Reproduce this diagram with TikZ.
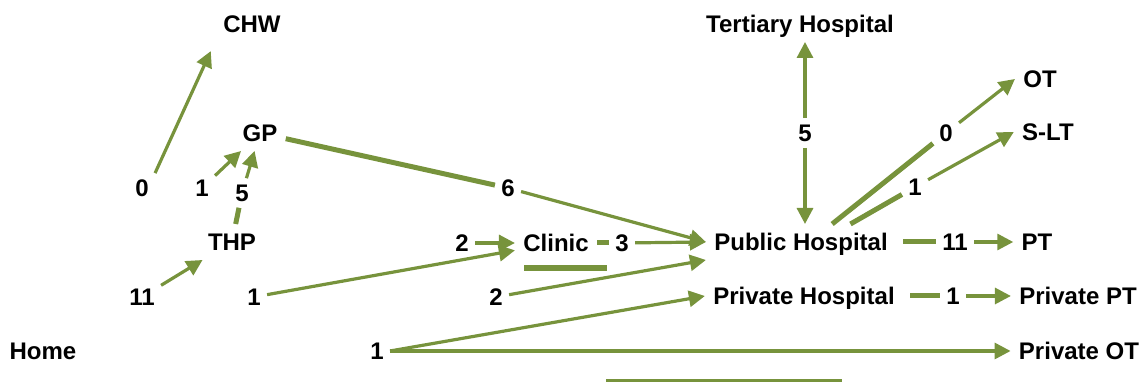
\documentclass[tikz,border=0pt]{standalone}
\usepackage{fontspec}
\setmainfont{Liberation Sans}
\usetikzlibrary{arrows.meta, positioning}
\definecolor{leaf}{RGB}{119,147,60}

\begin{document}
\begin{tikzpicture}[
    x=0.5pt, y=-0.5pt,
    % Styles for places, counts and links
    place/.style={font=\fontsize{12pt}{14pt}\selectfont\bfseries, inner xsep=4pt, inner ysep=2pt, text height=11.1pt, text depth=2.5pt},
    count/.style={font=\fontsize{12pt}{14pt}\selectfont\bfseries, inner sep=3pt},
    flow/.style={draw=leaf, line width=1.6pt, -{Triangle[length=8pt,width=8pt]}},
    stub/.style={draw=leaf, line width=2.5pt}
]
\useasboundingbox (0,0) rectangle (1141,383);

        % --- Places ---
        \node[place] (chw) at (252, 24) {CHW};
        \node[place] (gp) at (260, 133) {GP};
        \node[place] (thp) at (232, 242) {THP};
        \node[place] (home) at (43, 351) {Home};
        \node[place] (clinic) at (556, 243) {Clinic};
        \node[place] (tert) at (800, 24) {Tertiary Hospital};
        \node[place] (ph) at (801, 242) {Public Hospital};
        \node[place] (privh) at (804, 296) {Private Hospital};
        \node[place] (ot) at (1040, 79) {OT};
        \node[place] (slt) at (1048, 132) {S-LT};
        \node[place] (pt) at (1037, 242) {PT};
        \node[place] (privpt) at (1078, 296) {Private PT};
        \node[place] (privot) at (1079, 351) {Private OT};

        % --- Counts ---
        % Left group
        \node[count] (n0chw) at (142, 188) {0};
        \node[count] (n1gp) at (202, 188) {1};
        \node[count] (n5gp) at (242, 193) {5};
        \node[count] (n11thp) at (142, 297) {11};
        \node[count] (n1cl) at (254, 297) {1};
        \node[count] (nh1) at (377, 351) {1};
        
        % Middle group
        \node[count] (n6) at (508, 188) {6};
        \node[count] (n2cl) at (462, 243) {2};
        \node[count] (n3) at (622, 243) {3};
        \node[count] (n2ph) at (496, 297) {2};

        % Right group
        \node[count] (n5t) at (805, 133) {5};
        \node[count] (n0ot) at (946, 133) {0};
        \node[count] (n1sl) at (915, 187) {1};
        \node[count] (n11pt) at (955, 242) {11};
        \node[count] (n1ppt) at (953, 296) {1};

        % --- Links ---
        % Into CHW, GP and THP
        \draw[flow, shorten >=5pt] (n0chw.north east) -- (chw.south west);
        \draw[flow] (n1gp) -- (gp);
        \draw[stub] (thp) -- (n5gp);
        \draw[flow] (n5gp) -- (gp);
        \draw[flow] (n11thp) -- (thp);
        % Into Clinic
        \draw[flow] (n1cl) -- (clinic);
        \draw[flow] (n2cl) -- (clinic);
        % Into Public Hospital
        \draw[stub] (gp) -- (n6);
        \draw[flow] (n6) -- (ph.west);
        \draw[stub] (clinic) -- (n3);
        \draw[flow] (n3) -- (ph.west);
        \draw[flow] (n2ph) -- (ph.south west);
        % From Home
        \draw[flow] (nh1.east) -- (privh.west);
        \draw[flow] (nh1.east) -- (privot);
        % Public Hospital and Tertiary Hospital
        \draw[flow] (n5t) -- (n5t |- tert.south);
        \draw[flow] (n5t) -- (n5t |- ph.north);
        % Out of Public Hospital
        \draw[stub] (ph.30) -- (n0ot);
        \draw[flow] (n0ot) -- (ot.west);
        \draw[stub] (ph.20) -- (n1sl);
        \draw[flow] (n1sl) -- (slt.west);
        \draw[stub, shorten <=3.5pt] (ph) -- (n11pt);
        \draw[flow] (n11pt) -- (pt);
        % Out of Private Hospital
        \draw[stub, shorten <=3.5pt] (privh) -- (n1ppt);
        \draw[flow] (n1ppt) -- (privpt);

        % --- Loose bars ---
        \coordinate (u1) at (524, 268);
        \coordinate (u2) at (607, 268);
        \draw[stub, line width=3pt] (u1) -- (u2);
        \coordinate (b1) at (606, 381);
        \coordinate (b2) at (842, 381);
        \draw[stub, line width=1.5pt] (b1) -- (b2);

    \end{tikzpicture}
\end{document}
